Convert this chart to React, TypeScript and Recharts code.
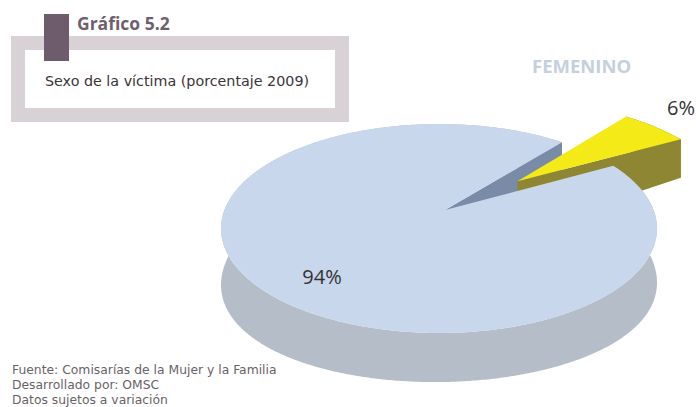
import { PieChart, Pie } from "recharts"

const categories = ["Masculino", "Femenino"]
const values = [94, 6]
const footerLines = [
  "Fuente: Comisarías de la Mujer y la Familia",
  "Desarrollado por: OMSC",
  "Datos sujetos a variación",
]

const chartData = categories.map((name, i) => ({ name, value: values[i] }))

const COLORS: Record<string, { top: string; side: string; wall: string }> = {
  Masculino: { top: "#c8d7ec", side: "#b5bec8", wall: "#7a8ba8" },
  Femenino: { top: "#f3ea17", side: "#8e8632", wall: "#8e8632" },
}

// donde van los porcentajes
const LABEL_POS: Record<string, [number, number]> = {
  Masculino: [322, 284],
  Femenino: [681, 115],
}

const FONT = "'Open Sans', sans-serif"
const BODY_FONT = "'DejaVu Sans', sans-serif"
const TILT = 104.5 / 218
const DEPTH = 41
const SIDE_EXTRA = 14
const EXPLODE: Record<string, number> = { Masculino: 0, Femenino: 0.47 }
const RIM_SCALE: Record<string, number> = { Masculino: 1, Femenino: 1.08 }
// punto de fuga: el centro del disco no cae en el centro de la elipse
const SHIFT = [6 / 218, -18.5 / 104.5]
const K = Math.hypot(SHIFT[0], SHIFT[1])
const E = [SHIFT[0] / K, SHIFT[1] / K]

const rad = (a: number) => (a * Math.PI) / 180

// disco unitario -> pantalla, con perspectiva
function project(px: number, py: number, p: any, drop = false) {
  const along = px * E[0] + py * E[1]
  const den = 1 + K * along
  const q = Math.sqrt(1 - K * K) / den
  const ox = px - along * E[0]
  const oy = py - along * E[1]
  const a2 = (along + K) / den
  const X = a2 * E[0] + ox * q
  const Y = a2 * E[1] + oy * q
  const rx = p.outerRadius
  // el borde inferior es más plano que la cara superior
  const depth = DEPTH * q + SIDE_EXTRA * Math.max(0, 1 - py * py)
  return [p.cx + X * rx, p.cy + Y * rx * TILT + (drop ? depth : 0)]
}

function rimPoints(p: any) {
  const d = EXPLODE[p.name] || 0
  const r = RIM_SCALE[p.name] || 1
  const mid = rad((p.startAngle + p.endAngle) / 2)
  const dx = d * Math.cos(mid)
  const dy = -d * Math.sin(mid)
  const pts: [number, number][] = []
  const n = Math.ceil(Math.abs(p.endAngle - p.startAngle) * 2)
  for (let i = 0; i <= n; i++) {
    const a = rad(p.startAngle + ((p.endAngle - p.startAngle) * i) / n)
    pts.push([r * Math.cos(a) + dx, -r * Math.sin(a) + dy])
  }
  return { pts, apex: [dx, dy] as [number, number] }
}

const toPath = (pts: number[][]) =>
  "M" + pts.map((q) => `${q[0].toFixed(2)},${q[1].toFixed(2)}`).join("L") + "Z"

function topPath(p: any) {
  const { pts, apex } = rimPoints(p)
  return toPath([apex, ...pts].map((q) => project(q[0], q[1], p)))
}

// costados: borde exterior y la pared del corte
function Sides({ p }: { p: any }) {
  const c = COLORS[p.name]
  const { pts, apex } = rimPoints(p)
  const rim = pts.map((q) => project(q[0], q[1], p))
  const low = pts.map((q) => project(q[0], q[1], p, true)).reverse()
  const first = pts[0]
  const wall = [
    project(apex[0], apex[1], p),
    project(first[0], first[1], p),
    project(first[0], first[1], p, true),
    project(apex[0], apex[1], p, true),
  ]
  return (
    <g>
      <path d={toPath([...rim, ...low])} fill={c.side} />
      <path d={toPath(wall)} fill={c.wall} />
    </g>
  )
}

// primera pasada: cuerpo grande, luego la porción amarilla completa
const backShape = (p: any) => (
  <g>
    <Sides p={p} />
    {p.name === "Femenino" && <path d={topPath(p)} fill={COLORS[p.name].top} />}
  </g>
)

// segunda pasada: la cara superior grande tapa la base de la porción amarilla
const frontShape = (p: any) =>
  p.name === "Masculino" ? <path d={topPath(p)} fill={COLORS[p.name].top} /> : <g />

const renderLabel = (p: any) => {
  const pos = LABEL_POS[p.name]
  return (
    <text x={pos[0]} y={pos[1]} textAnchor="middle" fontSize={20} fontFamily={FONT} fill="#333333">
      {`${p.value}%`}
    </text>
  )
}

export default function App() {
  return (
    <div style={{ position: "absolute", left: 0, top: 0, width: 696, height: 407, background: "#fff", overflow: "hidden", fontFamily: FONT }}>
      <div style={{ position: "absolute", left: 11, top: 36, width: 310, height: 58, border: "14px solid #d8d2d6", background: "#fff" }} />
      <div style={{ position: "absolute", left: 44, top: 14, width: 25, height: 47, background: "#6e5b6b" }} />
      <div style={{ position: "absolute", left: 77, top: 12, fontSize: 17.5, fontWeight: 700, color: "#6f5f6e", lineHeight: "22px" }}>
        Gráfico 5.2
      </div>
      <div style={{ position: "absolute", left: 45, top: 71, fontFamily: BODY_FONT, fontSize: 14.3, color: "#3a3338", lineHeight: "20px", whiteSpace: "nowrap" }}>
        Sexo de la víctima (porcentaje 2009)
      </div>
      <div style={{ position: "absolute", left: 532, top: 54, fontSize: 18.5, fontWeight: 700, color: "#c5d0de", lineHeight: "24px" }}>
        FEMENINO
      </div>

      <div style={{ position: "absolute", left: 0, top: 0 }}>
        <PieChart width={696} height={407} margin={{ top: 0, right: 0, bottom: 0, left: 0 }}>
          <Pie
            data={chartData}
            dataKey="value"
            nameKey="name"
            cx={439}
            cy={228.5}
            innerRadius={0}
            outerRadius={218}
            startAngle={50.8}
            endAngle={410.8}
            paddingAngle={0}
            shape={backShape}
            isAnimationActive={false}
          />
          <Pie
            data={chartData}
            dataKey="value"
            nameKey="name"
            cx={439}
            cy={228.5}
            innerRadius={0}
            outerRadius={218}
            startAngle={50.8}
            endAngle={410.8}
            paddingAngle={0}
            shape={frontShape}
            label={renderLabel}
            labelLine={false}
            isAnimationActive={false}
          />
        </PieChart>
      </div>

      <div style={{ position: "absolute", left: 12, top: 363, fontFamily: BODY_FONT, fontSize: 12.35, lineHeight: "15px", color: "#6a5f68", whiteSpace: "nowrap" }}>
        {footerLines.map((line) => (
          <div key={line}>{line}</div>
        ))}
      </div>
    </div>
  )
}
